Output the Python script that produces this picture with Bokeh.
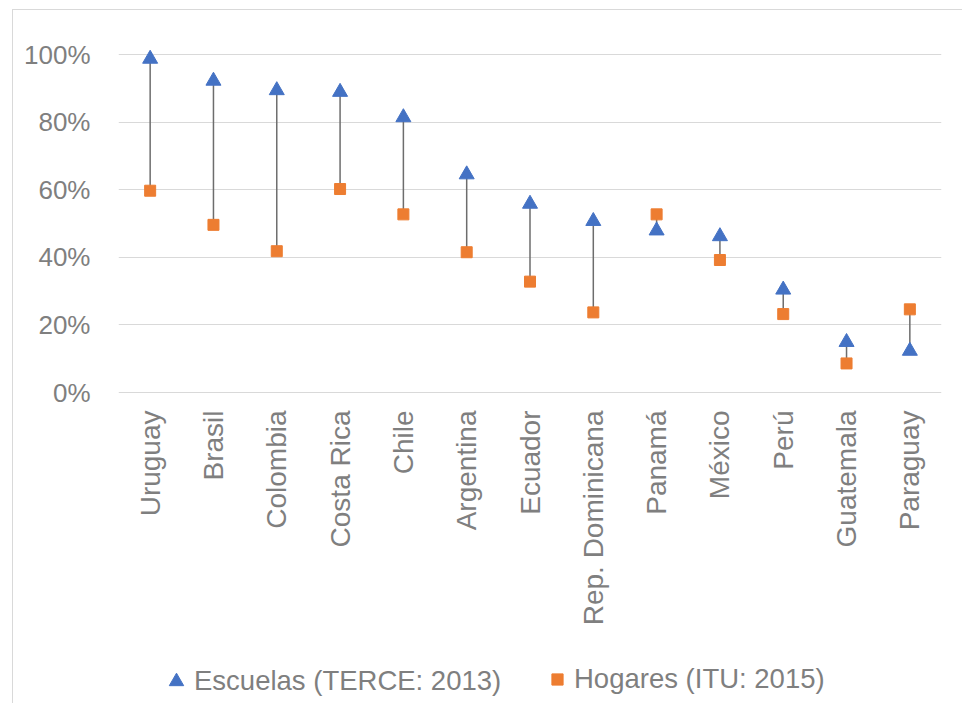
import math
from bokeh.plotting import figure
from bokeh.models import (FactorRange, Range1d, FixedTicker, NumeralTickFormatter,
                          Legend, LegendItem, ColumnDataSource)
from bokeh.core.properties import value
from bokeh.embed import file_html
from bokeh.resources import INLINE

# ---- data ----
countries = ["Uruguay", "Brasil", "Colombia", "Costa Rica", "Chile", "Argentina",
             "Ecuador", "Rep. Dominicana", "Panamá", "México", "Perú",
             "Guatemala", "Paraguay"]
escuelas = [0.987, 0.922, 0.894, 0.889, 0.814, 0.645, 0.558, 0.507, 0.479,
            0.462, 0.304, 0.149, 0.123]
hogares = [0.597, 0.496, 0.418, 0.602, 0.527, 0.415, 0.328, 0.237, 0.527,
           0.392, 0.232, 0.086, 0.246]
y_ticks = [0, 0.2, 0.4, 0.6, 0.8, 1.0]
label_escuelas = "Escuelas (TERCE: 2013)"
label_hogares = "Hogares (ITU: 2015)"

FONT = "Liberation Sans"
TXT = "#7f7f7f"

# layout (pixels, canvas coordinates)
W, H = 950, 694
TOP, BOTTOM, LEFT, RIGHT = 20, 2, 105, 22
PX_PER_UNIT = 338.0          # 0% -> 100% distance
ZERO_Y = 382.0               # canvas y of the 0% line
y_end = (ZERO_Y - TOP) / PX_PER_UNIT
y_start = -((H - BOTTOM) - ZERO_Y) / PX_PER_UNIT
label_off = -18.0 / PX_PER_UNIT  # category labels under the 0% line

src = ColumnDataSource(dict(c=countries, e=escuelas, h=hogares,
                            ly=[label_off] * len(countries)))

p = figure(x_range=FactorRange(*countries), y_range=Range1d(y_start, y_end),
           width=W, height=H, output_backend="svg", toolbar_location=None,
           x_axis_location=None,
           min_border_left=LEFT, min_border_right=RIGHT, min_border_top=TOP,
           min_border_bottom=BOTTOM)
p.styles = {"border-left": "1px solid #d9d9d9", "border-top": "1px solid #d9d9d9",
            "margin-left": "12px", "margin-top": "9px"}
p.outline_line_color = None
p.background_fill_color = "white"
p.border_fill_color = "white"

p.segment(x0="c", y0="e", x1="c", y1="h", source=src, line_color="#6d6d6d",
          line_width=1.5)
r_esc = p.scatter(x="c", y="e", source=src, marker="triangle", size=15,
                  fill_color="#4472C4", line_color="#4472C4")
r_hog = p.scatter(x="c", y="h", source=src, marker="square", size=11,
                  fill_color="#ED7D31", line_color="#ED7D31")

# category labels (vertical, reading bottom-to-top)
p.text(x="c", y="ly", text="c", source=src, angle=math.pi / 2,
       text_align="right", text_baseline="middle",
       text_font=value(FONT), text_font_size="28px", text_color=TXT)

# grid: horizontal lines only
for g in p.grid:
    if g.dimension == 0:
        g.visible = False
        g.grid_line_color = None
    else:
        g.grid_line_color = "#d9d9d9"
        g.grid_line_width = 1
        g.ticker = FixedTicker(ticks=y_ticks)

# y axis
p.yaxis.ticker = FixedTicker(ticks=y_ticks)
p.yaxis.formatter = NumeralTickFormatter(format="0%")
p.yaxis.axis_line_color = None
p.yaxis.major_tick_line_color = None
p.yaxis.minor_tick_line_color = None
p.yaxis.major_label_standoff = 22
p.yaxis.major_label_text_font = FONT
p.yaxis.major_label_text_font_size = "26px"
p.yaxis.major_label_text_color = TXT

def mk_legend(item, glyph, loc, standoff):
    return Legend(items=[item], location=loc, orientation="horizontal",
                  glyph_width=glyph, glyph_height=glyph, label_height=glyph,
                  label_standoff=standoff, padding=0, margin=0, spacing=0,
                  border_line_color=None, background_fill_alpha=0,
                  label_text_font=FONT, label_text_font_size="27.5px",
                  label_text_color=TXT)

lg1 = mk_legend(LegendItem(label=label_escuelas, renderers=[r_esc]), 36, (40, 3), 0)
lg2 = mk_legend(LegendItem(label=label_hogares, renderers=[r_hog]), 28, (425, 7), 3)
p.add_layout(lg1, "center")
p.add_layout(lg2, "center")

open("out.html", "w").write(file_html(p, INLINE))
